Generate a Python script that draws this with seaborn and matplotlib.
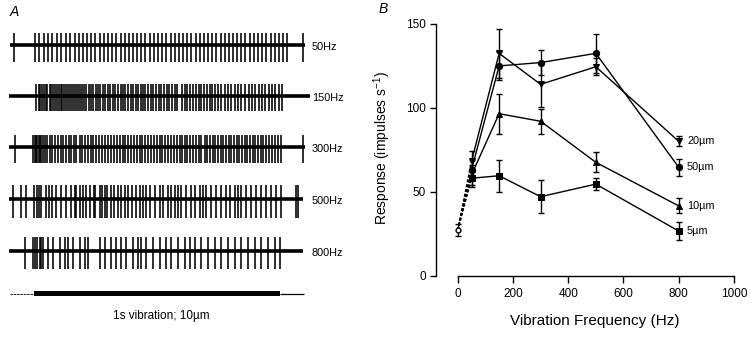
import seaborn as sns
import matplotlib.pyplot as plt
import numpy as np
import pandas as pd

sns.set_style("ticks")
plt.rcParams['font.family'] = ['Liberation Sans', 'DejaVu Sans']
plt.rcParams['mathtext.default'] = 'regular'
plt.rcParams['text.color'] = 'black'
plt.rcParams['axes.labelcolor'] = 'black'
plt.rcParams['axes.edgecolor'] = 'black'
plt.rcParams['xtick.color'] = 'black'
plt.rcParams['ytick.color'] = 'black'

# ---- panel A: spike times (ms from vibration onset)
spikes_50 = [-86, -1, 16, 36, 53, 71, 90, 108, 128, 144, 162, 178, 196, 214, 230, 246,
             264, 280, 298, 314, 332, 350, 366, 382, 400, 418, 434, 450, 468, 486, 502,
             518, 536, 554, 570, 588, 604, 622, 638, 656, 672, 690, 706, 722, 740, 758,
             774, 790, 808, 826, 842, 858, 876, 894, 910, 926, 944, 964, 978, 994, 1012,
             1030, 1094]
spikes_150 = [6, 15, 22, 30, 37, 44, 50, 60, 67, 75, 82, 90, 97, 105, 112, 118, 128,
              135, 143, 151, 159, 167, 176, 184, 192, 200, 210, 219, 230, 238, 248, 257,
              267, 276, 287, 298, 308, 318, 328, 339, 350, 359, 369, 380, 390, 400, 411,
              420, 431, 441, 450, 461, 472, 483, 494, 505, 516, 526, 537, 548, 559, 570,
              581, 600, 611, 622, 633, 645, 656, 668, 679, 690, 701, 713, 724, 736, 747, 760,
              774, 788, 801, 815, 828, 842, 858, 872, 886, 899, 913, 926, 940, 954, 967,
              981, 994, 1008]
spikes_300 = [-80, -8, -1, 6, 10, 15, 21, 26, 33, 40, 50, 61, 71, 80, 94, 105, 114, 128,
              138, 148, 159, 169, 182, 192, 203, 216, 227, 238, 250, 260, 274, 284, 298,
              312, 322, 336, 346, 359, 369, 380, 393, 404, 415, 427, 438, 450, 461, 475,
              486, 497, 509, 520, 532, 543, 556, 567, 578, 590, 600, 611, 622, 633, 645,
              656, 668, 679, 692, 703, 714, 726, 736, 747, 758, 769, 781, 790, 801, 812,
              823, 834, 845, 856, 866, 877, 888, 899, 910, 921, 932, 944, 955, 967, 978,
              992, 1005, 1094]
spikes_500 = [-90, -56, -35, -4, 10, 16, 23, 46, 56, 71, 87, 108, 128, 148, 162, 169,
              182, 196, 210, 223, 241, 246, 264, 274, 284, 295, 312, 322, 339, 352, 366,
              380, 396, 414, 427, 441, 454, 468, 488, 509, 522, 543, 556, 570, 584, 597,
              618, 635, 652, 672, 686, 699, 720, 740, 760, 781, 794, 815, 828, 842, 862,
              883, 903, 924, 944, 964, 985, 1005, 1066, 1073]
spikes_800 = [-42, -8, 2, 10, 19, 26, 33, 53, 74, 101, 121, 135, 155, 182, 203, 216,
              264, 284, 312, 332, 352, 373, 400, 420, 434, 454, 482, 509, 536, 556, 584,
              611, 631, 652, 679, 706, 733, 760, 788, 815, 842, 869, 896, 924, 951, 978,
              998]

trace_names = ['50Hz', '150Hz', '300Hz', '500Hz', '800Hz']
trace_spikes = [spikes_50, spikes_150, spikes_300, spikes_500, spikes_800]
trace_start = [-103, -105, -105, -105, -105]
trace_end = [1100, 1120, 1100, 1095, 1093]

stim_on, stim_off = -4, 1000
stim_start, stim_end = -102, 1098

# ---- panel B: mean response (impulses/s) and error, 4 amplitudes
freq = [50, 150, 300, 500, 800]
resp_5 = [58, 59.5, 47, 54.5, 26.5]
err_5 = [5, 9.5, 9.7, 3.5, 5.3]
resp_10 = [60, 96.5, 92, 67.5, 41.5]
err_10 = [6, 12, 7.5, 6, 4.5]
resp_20 = [68, 132.5, 114, 124.5, 80]
err_20 = [6, 14.5, 13.5, 5, 3]
resp_50 = [63, 125, 127, 132.5, 64.5]
err_50 = [6, 8.5, 7.5, 11.5, 5]
amps = ['5µm', '10µm', '20µm', '50µm']
resp_all = [resp_5, resp_10, resp_20, resp_50]
err_all = [err_5, err_10, err_20, err_50]
ctrl_resp, ctrl_err = 27, 3.5

fig = plt.figure(figsize=(7.5, 3.37), dpi=100)

# ---------------- panel A
axA = fig.add_axes([0, 0, 0.5, 1])
px = 4.08  # ms per pixel
axA.set_xlim(-35 * px, (375 - 35) * px)
axA.set_ylim(337, 0)
axA.axis('off')

bases = [45, 96, 147, 199, 251]
ups = [12, 12, 12, 14, 14]
downs = [17, 15, 16, 19, 18]
for name, sp, t0, t1, b, u, d in zip(trace_names, trace_spikes, trace_start, trace_end,
                                      bases, ups, downs):
    axA.hlines(b, t0, t1, color='black', lw=2.6)
    axA.vlines(sp, b - u, b + d, color='black', lw=1.15)
    axA.text((312 - 35) * px, b + 2, name, fontsize=7.8, va='center', ha='left')

stim_y = 293.5
axA.hlines(stim_y, stim_start, stim_on, color='black', lw=0.6, ls=(0, (3, 1)))
axA.hlines(stim_y, stim_off, stim_end, color='black', lw=0.9)
axA.fill_between([stim_on, stim_off], stim_y - 2.5, stim_y + 2.5, color='black', lw=0)
axA.text((161 - 35) * px, 316, '1s vibration; 10µm', fontsize=8.5, ha='center', va='center')
axA.text((14 - 35) * px, 12, 'A', fontsize=10, style='italic', ha='center', va='center')

# ---------------- panel B
rows = []
for a, r in zip(amps, resp_all):
    for f, v in zip(freq, r):
        rows.append({'freq': f, 'resp': v, 'amp': a})
df = pd.DataFrame(rows)

axB = fig.add_axes([436 / 750, 1 - 275.5 / 337, 298 / 750, 251.5 / 337])
for a, r in zip(amps, resp_all):
    axB.plot([0, freq[0]], [ctrl_resp, r[0]], color='black', lw=1.1, ls=(0, (2, 1.2)))

sns.lineplot(data=df, x='freq', y='resp', style='amp', style_order=amps,
             markers={'5µm': 's', '10µm': '^', '20µm': 'v', '50µm': 'o'},
             dashes=False, color='black', lw=1, markersize=4.5, markeredgecolor='black',
             legend=False, ax=axB, clip_on=False, zorder=3)
for r, e in zip(resp_all, err_all):
    axB.errorbar(freq, r, yerr=e, fmt='none', ecolor='black', elinewidth=1,
                 capsize=2.5, capthick=1, clip_on=False)
axB.errorbar([0], [ctrl_resp], yerr=[ctrl_err], fmt='o', mfc='white', mec='black',
             ecolor='black', ms=3.5, elinewidth=1, capsize=2.5, zorder=4)

for a, r in zip(amps, resp_all):
    axB.text(830, r[-1], a, fontsize=7.8, va='center', ha='left')

axB.set_xlim(-78.5, 1000)
axB.set_ylim(0, 150)
axB.set_xticks([0, 200, 400, 600, 800, 1000])
axB.set_yticks([0, 50, 100, 150])
sns.despine(ax=axB)
axB.spines['bottom'].set_bounds(0, 1000)
axB.spines['left'].set_bounds(0, 150)
axB.spines['bottom'].set_linewidth(1)
axB.spines['left'].set_linewidth(1)
axB.tick_params(axis='x', length=5, width=1, pad=4, labelsize=8.5)
axB.tick_params(axis='y', length=4.3, width=1, pad=3, labelsize=8.5)
axB.set_xlabel('Vibration Frequency (Hz)', fontsize=11)
axB.set_ylabel('Response (impulses s$^{-1}$)', fontsize=10)
axB.xaxis.set_label_coords(0.532, -0.153)
axB.yaxis.set_label_coords(-0.144, 0.507)
fig.text(383 / 750, 1 - 9 / 337, 'B', fontsize=10, style='italic', ha='center', va='center')

fig.savefig('out.png', dpi=100)
